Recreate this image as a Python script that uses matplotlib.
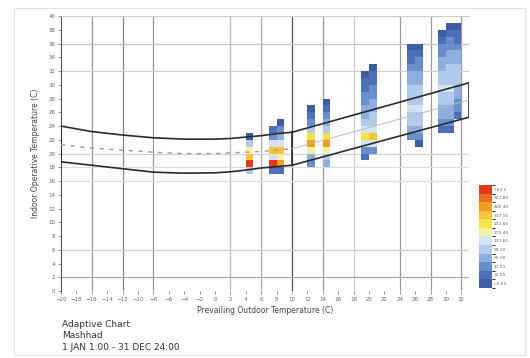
import numpy as np
import matplotlib
matplotlib.use('Agg')
import matplotlib.pyplot as plt
from matplotlib.colors import ListedColormap, BoundaryNorm
from matplotlib.patches import Rectangle

# hours per (outdoor, indoor) 1-degree cell, listed per column from the bottom cell up
col_x = [4, 7, 8, 12, 14, 19, 20, 25, 26, 29, 30, 31]
col_y0 = [17, 17, 17, 18, 18, 19, 20, 22, 21, 23, 23, 25]
col_hours = [
    [80, 720, 300, 170, 90, 8],
    [20, 690, 140, 320, 110, 40, 12],
    [15, 450, 200, 350, 130, 60, 25, 8],
    [30, 60, 160, 480, 280, 90, 40, 15, 8],
    [60, 90, 170, 450, 260, 90, 50, 25, 15, 8],
    [10, 40, 120, 290, 110, 75, 60, 45, 35, 25, 20, 10, 6],
    [30, 110, 300, 130, 85, 70, 55, 45, 35, 25, 15, 10, 6],
    [40, 60, 75, 85, 110, 90, 80, 70, 60, 50, 35, 20, 12, 6],
    [8, 30, 60, 80, 90, 115, 90, 80, 75, 60, 50, 40, 25, 15, 8],
    [10, 30, 55, 65, 85, 95, 120, 90, 80, 65, 55, 40, 30, 15, 8],
    [15, 40, 50, 60, 80, 95, 110, 90, 85, 75, 60, 50, 35, 25, 12, 6],
    [10, 25, 40, 55, 65, 75, 80, 70, 60, 45, 30, 20, 10, 6],
]

# comfort band, cold side (curved) and warm side (straight)
left_x = [-20, -16, -12, -8, -4, 0, 2, 4, 6, 8, 10]
left_up = [24.0, 23.2, 22.7, 22.3, 22.1, 22.1, 22.2, 22.4, 22.6, 22.9, 23.1]
left_lo = [18.8, 18.3, 17.8, 17.3, 17.15, 17.2, 17.35, 17.6, 17.9, 18.1, 18.3]
left_mid = [21.3, 20.8, 20.5, 20.2, 20.0, 20.0, 20.1, 20.2, 20.3, 20.5, 20.7]
right_x = [10, 33]
right_up = [23.1, 30.3]
right_lo = [18.3, 25.3]
right_mid = [20.7, 27.8]

vgrid = [-16, -12, -8, 2, 6, 10, 14, 18, 24, 28, 32]
vgrid_c = ['#999', '#888', '#999', '#bbb', '#aaa', '#555', '#999', '#ccc', '#999', '#999', '#999']
hgrid = [36, 32, 20, 18, 16, 6, 2]
hgrid_c = ['#c4c4c4', '#d0d0d0', '#d0d0d0', '#dddddd', '#dddddd', '#cccccc', '#aaaaaa']

cb_colors = ['#3d5da6', '#4d6fb7', '#6a8ecb', '#8eafdd', '#b3cbea', '#d6e3f2',
             '#f6f3a6', '#f7e448', '#f5c63c', '#f09e26', '#e8701c', '#e03a16']
cb_bounds = [0, 10, 25, 45, 70, 100, 150, 220, 300, 400, 520, 640, 800]
cb_labels = ['<3.69', '22.95', '41.91', '65.00', '99.20', '133.60', '175.40',
             '233.60', '317.10', '426.40', '527.80', '763 h']

fig = plt.figure(figsize=(5.3, 3.58), dpi=100)
fig.patches.append(Rectangle((0.026, 0.008), 0.965, 0.97, transform=fig.transFigure,
                             fill=False, edgecolor='#e4e4e4', lw=0.8))
ax = fig.add_axes([0.115, 0.187, 0.77, 0.768])

# build the 2D histogram from the columns
xe = np.arange(-20, 34)
ye = np.arange(0, 41)
H = np.zeros((len(ye) - 1, len(xe) - 1))
for cx, cy, hrs in zip(col_x, col_y0, col_hours):
    for k, h in enumerate(hrs):
        H[cy + k, cx + 20] = h
H = np.ma.masked_equal(H, 0)
cmap = ListedColormap(cb_colors)
norm = BoundaryNorm(cb_bounds, cmap.N)
mesh = ax.pcolormesh(xe, ye, H, cmap=cmap, norm=norm, zorder=2)

for g, c in zip(vgrid, vgrid_c):
    ax.axvline(g, color=c, lw=0.9, zorder=1)
for g, c in zip(hgrid, hgrid_c):
    ax.axhline(g, color=c, lw=0.9, zorder=1)

lc = '#2b2b2b'
ax.plot(left_x, left_up, color=lc, lw=1.2, zorder=3)
ax.plot(left_x, left_lo, color=lc, lw=1.2, zorder=3)
ax.plot([left_x[0], left_x[0]], [left_lo[0], left_up[0]], color=lc, lw=1.2, zorder=3)
ax.plot(left_x, left_mid, color='#999', lw=1.0, ls=(0, (3, 4)), zorder=3)
ax.plot(right_x, right_up, color=lc, lw=1.2, zorder=3)
ax.plot(right_x, right_lo, color=lc, lw=1.2, zorder=3)
for i in range(2):
    ax.plot([right_x[i], right_x[i]], [right_lo[i], right_up[i]], color=lc, lw=1.2, zorder=3)
ax.plot(right_x, right_mid, color='#bbb', lw=0.7, zorder=3)

ax.set_xlim(-20, 33)
ax.set_ylim(0, 40)
ax.set_xticks(np.arange(-20, 33, 2))
ax.set_yticks(np.arange(0, 41, 2))
ax.tick_params(labelsize=4, colors='#666', length=2, width=0.5, pad=2)
for s in ['right', 'bottom']:
    ax.spines[s].set_visible(False)
ax.spines['left'].set_color('#555')
ax.spines['top'].set_color('#ccc')
ax.set_xlabel('Prevailing Outdoor Temperature (C)', fontsize=5.5, color='#444', labelpad=3)
ax.set_ylabel('Indoor Operative Temperature (C)', fontsize=5.5, color='#444', labelpad=6)

cax = fig.add_axes([0.904, 0.196, 0.024, 0.287])
cb = fig.colorbar(mesh, cax=cax, spacing='uniform')
cb.set_ticks([(a + b) / 2 for a, b in zip(cb_bounds[:-1], cb_bounds[1:])])
cb.set_ticklabels(cb_labels)
cb.ax.tick_params(labelsize=3.2, colors='#666', length=0, pad=1.5)
cb.outline.set_visible(False)

fig.text(0.117, 0.087, 'Adaptive Chart', fontsize=6.5, color='#333')
fig.text(0.117, 0.056, 'Mashhad', fontsize=6.5, color='#333')
fig.text(0.117, 0.023, '1 JAN 1:00 - 31 DEC 24:00', fontsize=6.5, color='#333')

fig.savefig('out.png', dpi=100)
